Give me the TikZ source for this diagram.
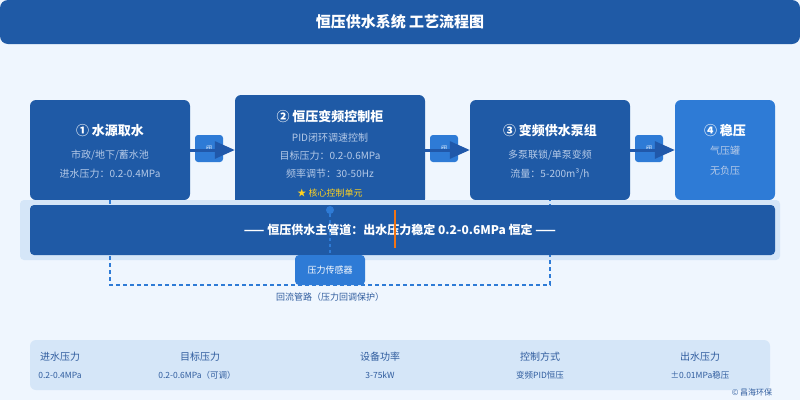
\documentclass[tikz,border=0pt]{standalone}
\usepackage{fontspec}
\setmainfont{Noto Sans CJK SC}
\usetikzlibrary{arrows.meta}
\definecolor{bgc}{HTML}{EFF6FE}
\definecolor{dkblue}{HTML}{1F5AA6}
\definecolor{midblue}{HTML}{2E7BD6}
\definecolor{bandc}{HTML}{D5E6F8}
\definecolor{subc}{HTML}{B5CAE8}
\definecolor{labc}{HTML}{2F5C9E}
\definecolor{arrc}{HTML}{2058AA}
\definecolor{starc}{HTML}{FFD21F}
\definecolor{orangec}{HTML}{F07415}
\newcommand{\fs}[1]{\fontsize{#1}{#1}\selectfont}
\begin{document}
\begin{tikzpicture}[x=1pt,y=-1pt,
  stagebox/.style={fill=dkblue, rounded corners=6pt, inner sep=0pt},
  lightbox/.style={fill=midblue, rounded corners=6pt, inner sep=0pt},
  valvebox/.style={fill=midblue, rounded corners=3pt, inner sep=0pt, minimum width=28pt, minimum height=27pt, text=white!85!midblue, font=\fs{6}},
  btitle/.style={text=white, font=\bfseries\fs{13}, inner sep=0pt},
  bsub/.style={text=subc, font=\fs{10}, inner sep=0pt},
  flow/.style={draw=arrc, line width=3pt, -{Triangle[length=20pt,width=17pt]}},
  ret/.style={draw=midblue, line width=1.5pt, dash pattern=on 4pt off 3pt},
  slab/.style={text=labc, font=\fs{10}, inner sep=0pt},
  sval/.style={text=labc, font=\fs{8.5}, inner sep=0pt}]
\useasboundingbox (0,0) rectangle (800,400);
\fill[bgc] (0,0) rectangle (800,400);
% title
\node[fill=dkblue, rounded corners=8pt, minimum width=800pt, minimum height=44pt, inner sep=0pt] (tbar) at (400,22) {};
\node[text=white, font=\bfseries\fs{15}, inner sep=0pt] (ttext) at (400,22) {恒压供水系统 工艺流程图};
% stage boxes
\node[stagebox, minimum width=160pt, minimum height=100pt] (b1) at (110,150) {};
\node[stagebox, minimum width=190pt, minimum height=110pt] (b2) at (330,150) {};
\node[stagebox, minimum width=160pt, minimum height=100pt] (b3) at (550,150) {};
\node[lightbox, minimum width=100pt, minimum height=100pt] (b4) at (725,150) {};
% main pipe band
\node[fill=bandc, rounded corners=4pt, minimum width=760pt, minimum height=60pt, inner sep=0pt] (band) at (400,230) {};
% return loop (over band, behind pipe)
\draw[ret] (b1.south) -- ++(0,85) -| (b3.south);
\node[fill=dkblue, rounded corners=4pt, minimum width=745pt, minimum height=50pt, inner sep=0pt] (pipe) at (402.5,230) {};
\node[text=white, font=\bfseries\fs{12}, inner sep=0pt] (pipetext) at (400,230) {—— 恒压供水主管道：出水压力稳定 0.2-0.6MPa 恒定 ——};
\coordinate (oa) at (395,210);
\coordinate (ob) at (395,248);
\draw[orangec, line width=2pt] (oa) -- (ob);
% box texts
\node[btitle] (t1) at (110,131) {① 水源取水};
\node[bsub] (s11) at (110,155) {市政/地下/蓄水池};
\node[bsub] (s12) at (110,174) {进水压力：0.2-0.4MPa};
\node[btitle] (t2) at (330,117) {② 恒压变频控制柜};
\node[bsub] (s21) at (330,138) {PID闭环调速控制};
\node[bsub] (s22) at (330,156) {目标压力：0.2-0.6MPa};
\node[bsub] (s23) at (330,174) {频率调节：30-50Hz};
\node[text=starc, font=\fs{9}, inner sep=0pt] (s24) at (330,193) {★ 核心控制单元};
\node[btitle] (t3) at (550,131) {③ 变频供水泵组};
\node[bsub] (s31) at (550,155) {多泵联锁/单泵变频};
\node[bsub] (s32) at (550,174) {流量：5-200m³/h};
\node[btitle] (t4) at (725,131) {④ 稳压};
\node[bsub] (s41) at (725,151) {气压罐};
\node[bsub] (s42) at (725,171) {无负压};
% valves and flow arrows
\node[valvebox] (v1) at (209,148.5) {阀};
\node[valvebox] (v2) at (444,148.5) {阀};
\node[valvebox] (v3) at (649,148.5) {阀};
\draw[flow] (b1.east) -- (b2.west);
\draw[flow] (b2.east |- b1.east) -- (b3.west);
\draw[flow] (b3.east) -- (b4.west);
% sensor
\node[lightbox, rounded corners=4pt, minimum width=70pt, minimum height=30pt, text=white, font=\fs{9}] (sensor) at (330,270) {压力传感器};
\node[circle, fill=midblue, minimum size=8pt, inner sep=0pt] (dot) at (330,210) {};
\draw[ret, line width=1.2pt, dash pattern=on 3pt off 3pt] (dot) -- (sensor.north);
\node[text=labc, font=\fs{9}, inner sep=0pt] (rettext) at (330,297) {回流管路（压力回调保护）};
% stats panel
\node[fill=bandc, rounded corners=6pt, minimum width=740pt, minimum height=50pt, inner sep=0pt] (panel) at (400,365) {};
\node[slab] (l1) at (60,357) {进水压力};
\node[sval] (v1t) at (60,375) {0.2-0.4MPa};
\node[slab] (l2) at (200,357) {目标压力};
\node[sval] (v2t) at (197,375) {0.2-0.6MPa（可调）};
\node[slab] (l3) at (380,357) {设备功率};
\node[sval] (v3t) at (380,375) {3-75kW};
\node[slab] (l4) at (540,357) {控制方式};
\node[sval] (v4t) at (540,375) {变频PID恒压};
\node[slab] (l5) at (700,357) {出水压力};
\node[sval] (v5t) at (700,375) {±0.01MPa稳压};
\node[text=labc, font=\fs{8}, inner sep=0pt] (copy) at (752,392) {© 昌海环保};
\end{tikzpicture}
\end{document}
